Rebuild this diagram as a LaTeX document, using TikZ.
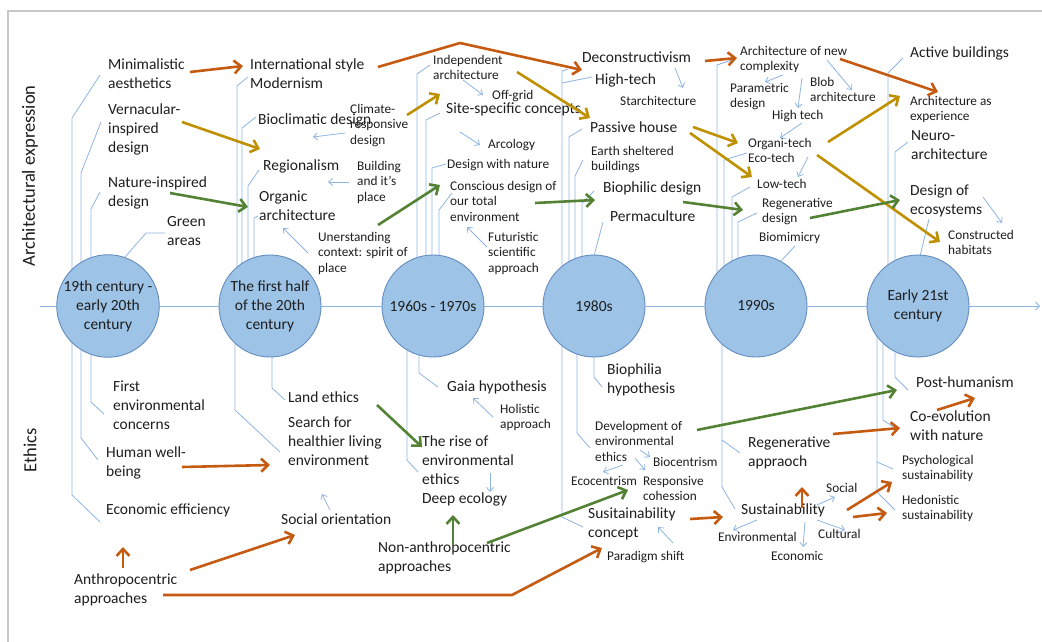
\documentclass[tikz,border=0pt]{standalone}
\usepackage{fontspec}
\setmainfont{Carlito}
\usetikzlibrary{arrows.meta}
\definecolor{ln}{RGB}{141,180,226}
\definecolor{cfill}{RGB}{157,195,230}
\definecolor{cdraw}{RGB}{100,140,190}
\definecolor{org}{RGB}{197,90,17}
\definecolor{gld}{RGB}{191,144,0}
\definecolor{grn}{RGB}{84,130,53}
\definecolor{txt}{RGB}{30,30,30}
\definecolor{frm}{RGB}{200,200,200}
\begin{document}
\begin{tikzpicture}[x=1pt,y=-1pt,
 big/.style={anchor=north west,inner sep=0pt,align=left,font=\fontsize{15.5}{19}\selectfont,text=txt},
 sml/.style={anchor=north west,inner sep=0pt,align=left,font=\fontsize{13.3}{15.5}\selectfont,text=txt},
 cn/.style={draw=ln,line width=0.8pt},
 sa/.style={cn,-{Straight Barb[length=4pt,width=7pt]}},
 ta/.style={line width=2.6pt,-{Straight Barb[length=7pt,width=13pt]}},
 era/.style={circle,minimum size=102pt,inner sep=0pt,fill=cfill,draw=cdraw,line width=0.9pt,align=center,font=\fontsize{15.5}{19}\selectfont,text=txt},
 side/.style={rotate=90,inner sep=0pt,font=\fontsize{18.5}{22}\selectfont,text=txt}]
\useasboundingbox (0,0) rectangle (1042,642);
% frame
\draw[frm,line width=1.2pt] (8,642) -- (8,11) -- (1042,11);
% axis
\coordinate (axs) at (40,306);
\coordinate (axe) at (1040,306);
\draw[cn,-{Straight Barb[length=4pt,width=8pt]}] (axs) -- (axe);

% ---------- connectors from eras to labels ----------
% column 1
\draw[cn] (72,306) -- (72,118) -- (100,75);
\draw[cn] (81,306) -- (81,173) -- (101,122);
\draw[cn] (91,306) -- (91,209) -- (100,192);
\draw[cn] (125,257) -- (146,233) -- (165,233);
\draw[cn] (91,306) -- (91,402) -- (104,414);
\draw[cn] (81,306) -- (81,438) -- (98,460);
\draw[cn] (72,306) -- (72,495) -- (100,522);
% column 2
\draw[cn] (237,306) -- (237,86) -- (248,77);
\draw[cn] (242,306) -- (242,128) -- (256,117);
\draw[cn] (248,306) -- (248,186) -- (259,170);
\draw[cn] (254,306) -- (254,218) -- (258,216);
\draw[cn] (272,306) -- (272,388) -- (285,400);
\draw[cn] (235,306) -- (235,410) -- (280,452);
% column 3
\draw[cn] (417,306) -- (417,74) -- (430,65);
\draw[cn] (426,306) -- (426,120) -- (440,113);
\draw[cn] (432,306) -- (432,168) -- (446,164);
\draw[cn] (439,306) -- (439,210) -- (452,193);
\draw[cn] (419,306) -- (419,373) -- (438,387);
\draw[cn] (407,306) -- (407,460) -- (418,472);
% column 4
\draw[cn] (562,306) -- (562,71) -- (568,69);
\draw[cn] (562,83) -- (592,77);
\draw[cn] (569,306) -- (569,137) -- (582,129);
\draw[cn] (575,306) -- (575,176) -- (583,160);
\draw[cn] (582,306) -- (582,203) -- (594,191);
\draw[cn] (594,256) -- (603,222);
\draw[cn] (594,306) -- (594,377) -- (602,387);
\draw[cn] (577,306) -- (577,433) -- (590,448);
\draw[cn] (562,306) -- (562,517) -- (583,527);
% column 5
\draw[cn] (717,306) -- (717,65) -- (732,60);
\draw[cn] (724,306) -- (724,160) -- (747,153);
\draw[cn] (732,306) -- (732,197) -- (750,187);
\draw[cn] (738,306) -- (738,222) -- (757,213);
\draw[cn] (780,262) -- (795,246);
\draw[cn] (722,306) -- (722,440) -- (740,453);
\draw[cn] (722,440) -- (722,487) -- (735,509);
% column 6
\draw[cn] (888,306) -- (888,73) -- (903,58);
\draw[cn] (895,306) -- (895,152) -- (908,142);
\draw[cn] (920,256) -- (929,219);
\draw[cn] (895,306) -- (895,377) -- (908,390);
\draw[cn] (883,306) -- (883,420) -- (895,428);
\draw[cn] (877,306) -- (877,462) -- (893,469);
\draw[cn] (877,462) -- (877,492) -- (895,510);

% ---------- eras ----------
\node[era] (c1) at (108,306) {19th century -\\early 20th\\century};
\node[era] (c2) at (270,306) {The first half\\of the 20th\\century};
\node[era] (c3) at (433,306) {1960s - 1970s};
\node[era] (c4) at (594,306) {1980s};
\node[era] (c5) at (756,306) {1990s};
\node[era] (c6) at (918,306) {Early 21st\\century};

% side labels
\node[side] (lArch) at (30,176) {Architectural expression};
\node[side] (lEth) at (30,450) {Ethics};

% ---------- big labels ----------
\node[big] (nMin) at (108,59) {Minimalistic\\aesthetics};
\node[big] (nVer) at (108,104) {Vernacular-\\inspired\\design};
\node[big] (nNat) at (108,177) {Nature-inspired\\design};
\node[big] (nGreen) at (167,216) {Green\\areas};
\node[big] (nInt) at (250,59) {International style\\Modernism};
\node[big] (nBio) at (258,114) {Bioclimatic design};
\node[big] (nReg) at (263,160) {Regionalism};
\node[big] (nOrg) at (259,191) {Organic\\architecture};
\node[big] (nSite) at (446,103) {Site-specific concepts};
\node[big] (nDec) at (582,52) {Deconstructivism};
\node[big] (nHT) at (595,74) {High-tech};
\node[big] (nPas) at (590,122) {Passive house};
\node[big] (nBph) at (603,182) {Biophilic design};
\node[big] (nPerm) at (610,211) {Permaculture};
\node[big] (nAct) at (910,47) {Active buildings};
\node[big] (nNeu) at (911,130) {Neuro-\\architecture};
\node[big] (nDoe) at (910,185) {Design of\\ecosystems};
\node[big] (nFirst) at (113,381) {First\\environmental\\concerns};
\node[big] (nHum) at (106,447) {Human well-\\being};
\node[big] (nEco) at (106,504) {Economic efficiency};
\node[big] (nAnt) at (74,574) {Anthropocentric\\approaches};
\node[big] (nLand) at (288,392) {Land ethics};
\node[big] (nSearch) at (288,417) {Search for\\healthier living\\environment};
\node[big] (nSoc) at (281,514) {Social orientation};
\node[big] (nGaia) at (447,381) {Gaia hypothesis};
\node[big] (nRise) at (422,436) {The rise of\\environmental\\ethics\\Deep ecology};
\node[big] (nNon) at (378,542) {Non-anthropocentric\\approaches};
\node[big] (nBhyp) at (607,364) {Biophilia\\hypothesis};
\node[big] (nSusC) at (588,508) {Susitainability\\concept};
\node[big] (nRegA) at (748,437) {Regenerative\\appraoch};
\node[big] (nSus) at (741,504) {Sustainability};
\node[big] (nPost) at (916,377) {Post-humanism};
\node[big] (nCoev) at (910,411) {Co-evolution\\with nature};

% ---------- small labels ----------
\node[sml] (nClim) at (350,104) {Climate-\\responsive\\design};
\node[sml] (nBuild) at (357,161) {Building\\and it’s\\place};
\node[sml] (nUnd) at (318,232) {Unerstanding\\context:  spirit of\\place};
\node[sml] (nInd) at (433,55) {Independent\\architecture};
\node[sml] (nOff) at (492,90) {Off-grid};
\node[sml] (nArc) at (488,139) {Arcology};
\node[sml] (nDwn) at (447,159) {Design with nature};
\node[sml] (nCons) at (450,181) {Conscious design of\\our total\\environment};
\node[sml] (nFut) at (488,232) {Futuristic\\scientific\\approach};
\node[sml] (nStar) at (620,96) {Starchitecture};
\node[sml] (nEarth) at (591,146) {Earth sheltered\\buildings};
\node[sml] (nHol) at (500,404) {Holistic\\approach};
\node[sml] (nDev) at (595,421) {Development of\\environmental\\ethics};
\node[sml] (nBioc) at (653,457) {Biocentrism};
\node[sml] (nEcoc) at (571,476) {Ecocentrism};
\node[sml] (nResp) at (643,476) {Responsive\\cohession};
\node[sml] (nPar) at (607,551) {Paradigm shift};
\node[sml] (nANC) at (740,46) {Architecture of new\\complexity};
\node[sml] (nPar2) at (730,83) {Parametric\\design};
\node[sml] (nBlob) at (810,77) {Blob\\architecture};
\node[sml] (nHtech) at (772,110) {High tech};
\node[sml] (nOrgT) at (748,138) {Organi-tech\\Eco-tech};
\node[sml] (nLow) at (757,179) {Low-tech};
\node[sml] (nRegD) at (762,198) {Regenerative\\design};
\node[sml] (nBiom) at (759,232) {Biomimicry};
\node[sml] (nAAE) at (910,96) {Architecture as\\experience};
\node[sml] (nCH) at (948,230) {Constructed\\habitats};
\node[sml] (nPsy) at (902,455) {Psychological\\sustainability};
\node[sml] (nHed) at (902,495) {Hedonistic\\sustainability};
\node[sml] (nEnv) at (718,532) {Environmental};
\node[sml] (nEcon) at (771,551) {Economic};
\node[sml] (nSocl) at (826,483) {Social};
\node[sml] (nCult) at (818,529) {Cultural};

% ---------- small blue arrows ----------
\draw[sa] (345,133) -- (313,137);
\draw[sa] (349,182) -- (328,182);
\draw[sa] (463,80) -- (483,95);
\draw[sa] (460,132) -- (480,145);
\draw[sa] (308,253) -- (283,228);
\draw[sa] (487,247) -- (467,227);
\draw[sa] (675,68) -- (683,88);
\draw[sa] (783,75) -- (765,82);
\draw[sa] (802,78) -- (798,108);
\draw[sa] (827,60) -- (852,90);
\draw[sa] (802,123) -- (780,138);
\draw[sa] (808,157) -- (798,177);
\draw[sa] (983,197) -- (1002,223);
\draw[sa] (493,417) -- (473,398);
\draw[sa] (490,473) -- (490,492);
\draw[sa] (640,450) -- (650,457);
\draw[sa] (635,458) -- (645,470);
\draw[sa] (623,465) -- (603,472);
\draw[sa] (673,543) -- (658,527);
\draw[sa] (757,520) -- (733,530);
\draw[sa] (805,522) -- (803,547);
\draw[sa] (817,505) -- (835,497);
\draw[sa] (817,520) -- (845,530);
\draw[sa] (330,510) -- (322,494);

% ---------- orange arrows ----------
\draw[ta,org] (190,72) -- (243,66);
\draw[ta,org] (378,67) -- (460,43) -- (582,70);
\draw[ta,org] (705,61) -- (737,58);
\draw[ta,org] (840,59) -- (938,92);
\draw[ta,org] (182,467) -- (270,465);
\draw[ta,org] (123,568) -- (123,547);
\draw[ta,org] (190,570) -- (295,535);
\draw[ta,org] (163,595) -- (512,595) -- (602,548);
\draw[ta,org] (690,519) -- (723,517);
\draw[ta,org] (802,508) -- (802,487);
\draw[ta,org] (833,434) -- (900,428);
\draw[ta,org] (847,510) -- (892,482);
\draw[ta,org] (853,517) -- (887,513);
\draw[ta,org] (937,410) -- (975,398);

% ---------- gold arrows ----------
\draw[ta,gld] (182,122) -- (260,149);
\draw[ta,gld] (407,115) -- (440,94);
\draw[ta,gld] (517,72) -- (590,118);
\draw[ta,gld] (693,127) -- (738,143);
\draw[ta,gld] (690,133) -- (752,177);
\draw[ta,gld] (828,142) -- (900,96);
\draw[ta,gld] (817,155) -- (940,242);

% ---------- green arrows ----------
\draw[ta,grn] (170,193) -- (248,207);
\draw[ta,grn] (378,225) -- (440,185);
\draw[ta,grn] (535,203) -- (595,200);
\draw[ta,grn] (683,202) -- (743,210);
\draw[ta,grn] (810,218) -- (900,200);
\draw[ta,grn] (377,405) -- (422,447);
\draw[ta,grn] (453,545) -- (453,515);
\draw[ta,grn] (487,543) -- (628,490);
\draw[ta,grn] (697,430) -- (897,390);
\end{tikzpicture}
\end{document}
